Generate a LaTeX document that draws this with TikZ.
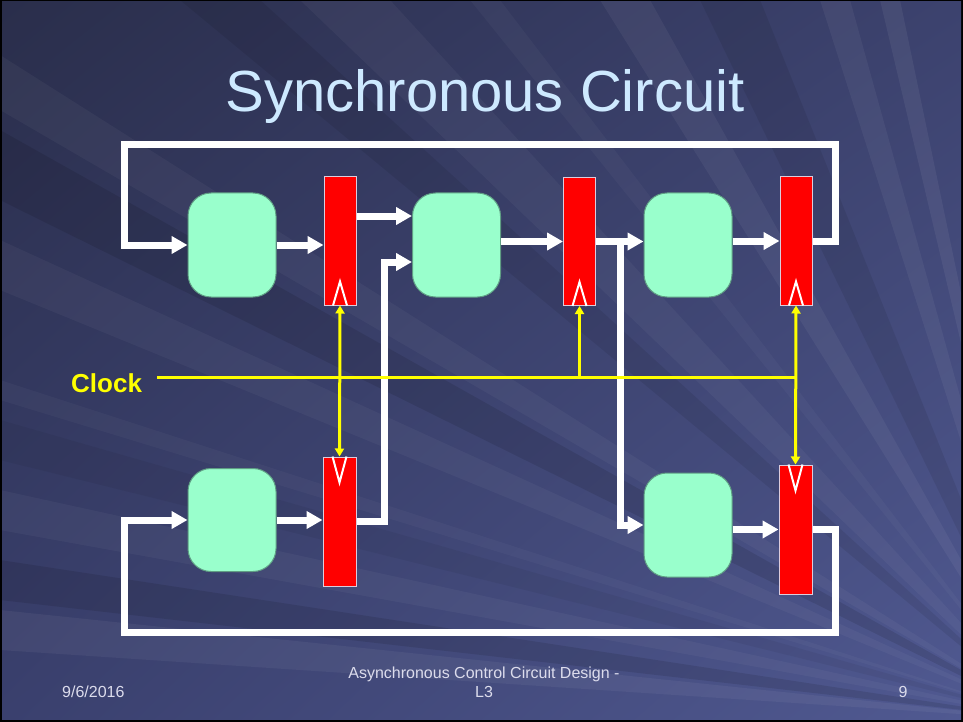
\documentclass[tikz,border=0pt]{standalone}
\usepackage{fontspec}
\setmainfont{Liberation Sans}
\usetikzlibrary{arrows.meta,calc,shadings}
\definecolor{combfill}{HTML}{99FFCC}
\definecolor{combline}{HTML}{5F9E84}
\definecolor{regline}{HTML}{DCCCDC}
\definecolor{titlecol}{HTML}{CDE9FF}
\definecolor{footcol}{HTML}{DCDCEC}
\definecolor{clkcol}{HTML}{FFFF00}
\definecolor{bgul}{RGB}{42,46,75}
\definecolor{bgur}{RGB}{60,66,110}
\definecolor{bgll}{RGB}{58,64,110}
\definecolor{bglr}{RGB}{80,89,145}
\tikzset{
  comb/.style={draw=combline,line width=1pt,fill=combfill,rounded corners=23pt,minimum width=88pt,minimum height=104pt,inner sep=0pt},
  reg/.style={draw=regline,line width=1pt,fill=red,minimum width=32pt,minimum height=128pt,inner sep=0pt},
  wire/.style={white,line width=7pt,-{Triangle[length=16pt,width=17pt]}},
  clkw/.style={clkcol,line width=3pt},
  clkarr/.style={clkw,-{Triangle[length=8pt,width=9pt]}},
  clkarr2/.style={clkw,{Triangle[length=8pt,width=9pt]}-{Triangle[length=8pt,width=9pt]}},
  chev/.style={white,line width=2pt,line join=miter},
  foot/.style={footcol,font=\fontsize{16}{19}\selectfont,inner sep=0pt}
}
\begin{document}
\begin{tikzpicture}[x=1pt,y=-1pt]
\useasboundingbox (0,0) rectangle (963,722);
% background
\fill[black] (0,0) rectangle (963,722);
\shade[upper left=bgul,upper right=bgur,lower left=bgll,lower right=bglr]
  (2,2) rectangle (961,719);
\begin{scope}
\clip (2,2) rectangle (961,719);
\foreach \ax/\ay/\bx/\by/\op in {0/55/0/110/.04, 0/240/0/290/.04, 300/0/390/0/.04, 600/0/650/0/.05, 0/490/0/530/.04, 820/0/850/0/.05, 0/610/0/650/.05, 880/0/900/0/.06, 470/0/500/0/.03, 0/380/0/400/.03}{
  \fill[white,opacity=\op] (1050,720) -- (\ax,\ay) -- (\bx,\by) -- cycle;
}
\foreach \ax/\ay/\bx/\by/\op in {0/130/0/200/.10, 180/0/260/0/.08, 700/0/760/0/.08, 0/560/0/600/.10, 0/420/0/460/.05}{
  \fill[black,opacity=\op] (1050,720) -- (\ax,\ay) -- (\bx,\by) -- cycle;
}
\end{scope}
% title
\node[titlecol,font=\fontsize{58}{60}\selectfont,anchor=base,inner sep=0pt] (title) at (485,112) {Synchronous Circuit};
% combinational blocks
\node[comb] (A) at (232,245) {};
\node[comb] (B) at (456.5,245) {};
\node[comb] (C) at (688,245) {};
\node[comb,minimum height=103pt] (D) at (232,520) {};
\node[comb] (E) at (688,525) {};
% registers
\node[reg] (R1) at (340,241) {};
\node[reg] (R2) at (579.5,241.5) {};
\node[reg] (R3) at (796,241) {};
\node[reg,minimum width=33pt,minimum height=129pt] (R4) at (339.5,521.5) {};
\node[reg,minimum width=33pt,minimum height=129pt] (R5) at (795.5,529.5) {};
% chevrons
\foreach \r in {R1,R2,R3}{
  \draw[chev] ([xshift=-7pt]\r.south) -- ([yshift=24pt]\r.south) -- ([xshift=7pt]\r.south);
}
\foreach \r in {R4,R5}{
  \draw[chev] ([xshift=-7pt]\r.north) -- ([yshift=-26pt]\r.north) -- ([xshift=7pt]\r.north);
}
% wires
\coordinate (t1) at (835,145);
\coordinate (t2) at (124,145);
\draw[wire] (R3.east) -| (t1) -- (t2) |- (A.west);
\draw[wire] (A.east) -- (R1.west |- A.east);
\draw[wire] ([yshift=25pt]R1.east) -- ([yshift=25pt]R1.east -| B.west);
\coordinate (k1) at (384,262);
\draw[wire] (R4.east) -| (k1) -- (k1 -| B.west);
\draw[wire] (R2.west -| B.east) -- (R2.west);
\draw[wire] (R2.east) -- (R2.east -| C.west);
\coordinate (br) at (620,241.5);
\draw[wire] (br) |- (E.west);
\draw[wire] (R3.west -| C.east) -- (R3.west);
\draw[wire] (R5.west -| E.east) -- (R5.west);
\coordinate (b1) at (835,632);
\coordinate (b2) at (124,632);
\draw[wire] (R5.east) -| (b1) -- (b2) |- (D.west);
\draw[wire] (D.east) -- (D.east -| R4.west);
% clock
\node[clkcol,font=\fontsize{26}{30}\selectfont\bfseries,anchor=base west,inner sep=0pt] (clk) at (71,392) {Clock};
\coordinate (c0) at (157,377);
\draw[clkw] (c0) -- (R3.south |- c0);
\draw[clkarr2] (R1.south) -- (R4.north);
\draw[clkarr] (R2.south |- c0) -- (R2.south);
\draw[clkarr2] (R3.south) -- (R5.north);
% footer
\node[foot,anchor=base west] (date) at (62,697) {9/6/2016};
\node[foot,anchor=base] (f1) at (484,678) {Asynchronous Control Circuit Design -};
\node[foot,anchor=base] (f2) at (484,697) {L3};
\node[foot,anchor=base] (page) at (903,697) {9};
\end{tikzpicture}
\end{document}
